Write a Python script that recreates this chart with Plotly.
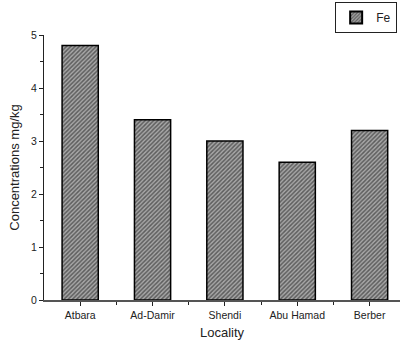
import plotly.graph_objects as go

categories = ["Atbara", "Ad-Damir", "Shendi", "Abu Hamad", "Berber"]
fe_values = [4.8, 3.4, 3.0, 2.6, 3.2]
y_ticks = [0, 1, 2, 3, 4, 5]

x_pos = list(range(len(categories)))
minor_x = [i + 0.5 for i in range(len(categories) - 1)]

fig = go.Figure()
fig.add_trace(go.Bar(
    x=x_pos, y=fe_values, name="Fe", width=0.5,
    marker=dict(
        color="#a8a8a8",
        line=dict(color="black", width=1.5),
        pattern=dict(shape="/", size=3, solidity=0.5, fgcolor="#111111", bgcolor="#a8a8a8"),
    ),
))

font = "Liberation Sans, Arial, sans-serif"
fig.update_layout(
    width=400, height=342,
    margin=dict(l=44, r=0, t=35, b=42),
    plot_bgcolor="white", paper_bgcolor="white",
    font=dict(family=font, color="#222"),
    showlegend=True,
    legend=dict(x=0.992, xanchor="right", y=1.125, yanchor="top",
                bordercolor="#222", borderwidth=1, font=dict(size=12),
                itemsizing="constant", tracegroupgap=0, itemwidth=30,
                bgcolor="white"),
    bargap=0.5,
)
fig.update_xaxes(
    range=[-0.5, 4.42], tickvals=x_pos, ticktext=categories,
    ticks="outside", ticklen=4, tickwidth=1.2, tickcolor="#222",
    showline=True, linecolor="#555", linewidth=2, showgrid=False, zeroline=False,
    tickfont=dict(size=10.5),
    minor=dict(tickvals=minor_x, ticks="outside", ticklen=3, tickwidth=1.2, tickcolor="#222"),
    title=dict(text="Locality", font=dict(size=13), standoff=8),
)
fig.update_yaxes(
    range=[0, 5], tickvals=y_ticks,
    ticks="outside", ticklen=4, tickwidth=1.2, tickcolor="#222",
    showline=True, linecolor="#222", linewidth=1.2, showgrid=False, zeroline=False,
    tickfont=dict(size=10.5),
    minor=dict(dtick=0.5, ticks="outside", ticklen=3, tickwidth=1.2, tickcolor="#222", showgrid=False),
    title=dict(text="Concentrations mg/kg", font=dict(size=13), standoff=8),
)

fig.write_html("out.html", config={"displayModeBar": False},
               post_script="document.body.style.margin='0';document.body.style.overflow='hidden';")
